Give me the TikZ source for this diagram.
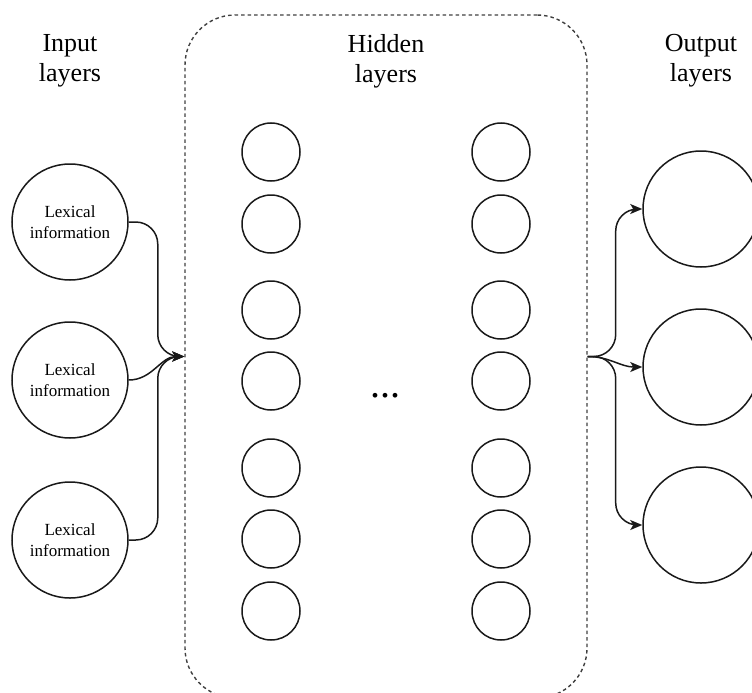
\documentclass[tikz,border=0pt]{standalone}
\usepackage{fontspec}
\setmainfont{Liberation Serif}
\usetikzlibrary{arrows.meta}
\tikzset{
  nn_base/.style = {circle, draw=black!90, line width=1.5pt, inner sep=0pt,
    align=center},
  nn_in/.style = {nn_base, minimum size=116pt,
    font=\fontsize{17}{21}\selectfont},% input layer, with text
  nn_h/.style = {nn_base, minimum size=58pt},% hidden layer, small
  nn_out/.style = {nn_base, minimum size=116pt},% output layer, empty
  titre/.style = {align=center, font=\fontsize{26}{30}\selectfont},
  boite/.style = {draw=black!75, dash pattern=on 3.5pt off 3pt, line width=1.4pt,
    rounded corners=50pt, minimum width=402pt, minimum height=683pt,
    inner sep=0pt},% dashed frame round the hidden layers
  lien/.style = {-{Stealth[length=12pt,width=10pt,inset=3pt]}, line width=1.5pt,
    black!90},
}

\begin{document}
\begin{tikzpicture}[x=1pt,y=1pt]
  \useasboundingbox (0,0) rectangle (752,-693);

  \node[boite] (hidden) at (386,-356.5) {};

  \node[titre] (t_in) at (70,-61) {Input\\layers};
  \node[titre] (t_h) at (386,-61) {Hidden\\layers};
  \node[titre] (t_out) at (701,-61) {Output\\layers};

  %   input
  \node[nn_in] (in1) at (70,-222) {Lexical\\information};
  \node[nn_in] (in2) at (70,-380) {Lexical\\information};
  \node[nn_in] (in3) at (70,-540) {Lexical\\information};

  %   hidden, first column
  \node[nn_h] (h1) at (271,-152) {};
  \node[nn_h] (h2) at (271,-224) {};
  \node[nn_h] (h3) at (271,-310) {};
  \node[nn_h] (h4) at (271,-381) {};
  \node[nn_h] (h5) at (271,-468) {};
  \node[nn_h] (h6) at (271,-539) {};
  \node[nn_h] (h7) at (271,-611) {};
  %   hidden, last column
  \node[nn_h] (k1) at (501,-152) {};
  \node[nn_h] (k2) at (501,-224) {};
  \node[nn_h] (k3) at (501,-310) {};
  \node[nn_h] (k4) at (501,-381) {};
  \node[nn_h] (k5) at (501,-468) {};
  \node[nn_h] (k6) at (501,-539) {};
  \node[nn_h] (k7) at (501,-611) {};

  \node[font=\fontsize{40}{48}\selectfont, anchor=base] (dots) at (385,-397) {...};

  %   output
  \node[nn_out] (out1) at (701,-209) {};
  \node[nn_out] (out2) at (701,-367) {};
  \node[nn_out] (out3) at (701,-525) {};

  %   links
  \draw[lien, rounded corners=22pt] (in1.east) -- ++(29,0) |- (hidden.west);
  \draw[lien] (in2.east) to[out=0,in=180] (hidden.west);
  \draw[lien, rounded corners=22pt] (in3.east) -- ++(29,0) |- (hidden.west);

  \draw[lien, rounded corners=22pt] (hidden.east) -- ++(28,0) |- (out1.west);
  \draw[lien] (hidden.east) to[out=0,in=180] (out2.west);
  \draw[lien, rounded corners=22pt] (hidden.east) -- ++(28,0) |- (out3.west);
\end{tikzpicture}
\end{document}
